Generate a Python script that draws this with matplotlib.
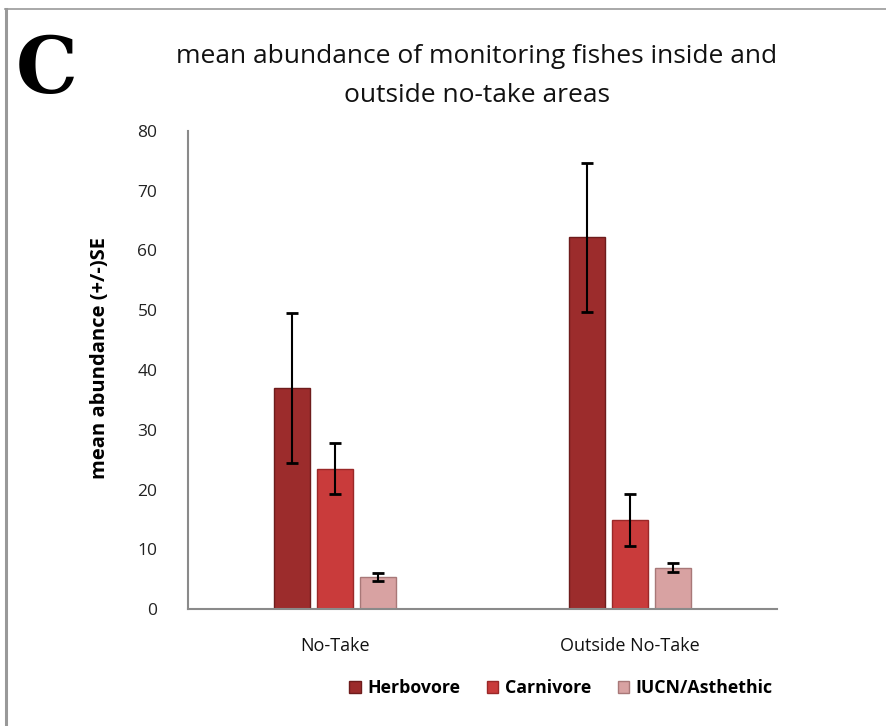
import matplotlib
matplotlib.use("Agg")
import matplotlib.pyplot as plt
from matplotlib.patches import Patch
from matplotlib.lines import Line2D
import numpy as np

categories = ["No-Take", "Outside No-Take"]
series = ["Herbovore", "Carnivore", "IUCN/Asthethic"]
herb = [37.0, 62.2]
herb_se = [12.6, 12.5]
carn = [23.5, 14.9]
carn_se = [4.2, 4.3]
iucn = [5.4, 6.9]
iucn_se = [0.7, 0.75]
yticks = [0, 10, 20, 30, 40, 50, 60, 70, 80]

colors = ["#9c2c2c", "#c93b3b", "#d8a2a2"]
edges = ["#6e1c1c", "#9a2828", "#a87878"]

plt.rcParams['font.family'] = ['Open Sans', 'DejaVu Sans']

W, H = 887, 726
fig = plt.figure(figsize=(W/100, H/100), dpi=100)
ax = fig.add_axes([188/W, 1-609/H, (777-188)/W, (609-131)/H])

x = np.arange(len(categories))
offs = [-0.146, 0.0, 0.146]
bw = 0.122
data = [(herb, herb_se), (carn, carn_se), (iucn, iucn_se)]
for i, (vals, se) in enumerate(data):
    ax.bar(x + offs[i], vals, width=bw, color=colors[i], edgecolor=edges[i],
           linewidth=1.0, zorder=2)
    ax.errorbar(x + offs[i], vals, yerr=se, fmt='none', ecolor='black',
                elinewidth=1.5, capsize=4, capthick=2, zorder=3)

ax.set_xlim(-0.5, 1.5)
ax.set_ylim(0, 80)
ax.set_yticks(yticks)
ax.set_xticks(x)
ax.set_xticklabels(categories, fontsize=13, color='#111111')
ax.tick_params(axis='y', length=0, pad=22, labelsize=12.5, labelcolor='#222222')
ax.tick_params(axis='x', length=0, pad=20)
for s in ['top', 'right']:
    ax.spines[s].set_visible(False)
for s in ['left', 'bottom']:
    ax.spines[s].set_color('#8a8a8a')
    ax.spines[s].set_linewidth(1.5)

ax.set_ylabel("mean abundance (+/-)SE", fontsize=14.5, fontweight='bold')
ax.yaxis.set_label_coords(-0.132, 0.525)

fig.text(477/W, 1-76/H, "mean abundance of monitoring fishes inside and\noutside no-take areas",
         ha='center', va='center', fontsize=19, linespacing=1.7, color='#111111')
fig.text(47/W, 1-71/H, "C", ha='center', va='center', fontsize=56,
         fontweight='bold', family='DejaVu Serif', color='black')

handles = [Patch(facecolor=colors[i], edgecolor=edges[i]) for i in range(3)]
leg = fig.legend(handles, series, loc='center', bbox_to_anchor=(561/W, 1-688/H),
                 ncol=3, frameon=False, handlelength=0.65, handleheight=0.65,
                 handletextpad=0.35, columnspacing=1.5,
                 prop={'weight': 'bold', 'size': 12.8})

fig.add_artist(Line2D([6/W, 6/W], [0, 1-9/H], color='#999999', linewidth=2.2))
fig.add_artist(Line2D([5/W, 1], [1-9/H, 1-9/H], color='#999999', linewidth=1.2))

fig.savefig("out.png", dpi=100, facecolor='white')
